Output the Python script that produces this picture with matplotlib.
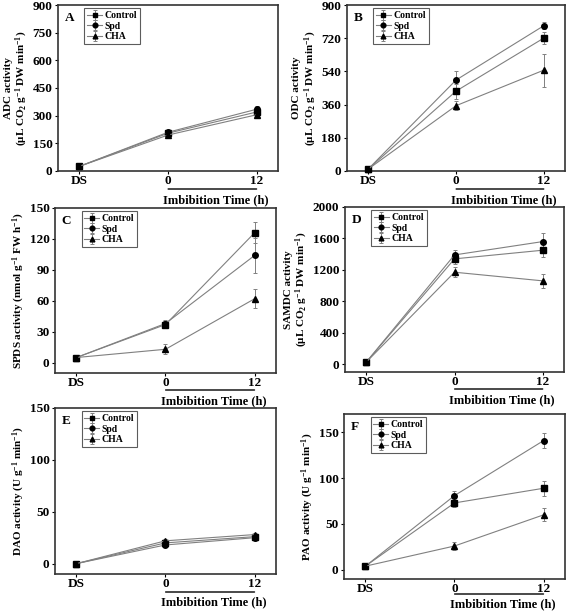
import matplotlib
matplotlib.use("Agg")
import matplotlib.pyplot as plt
from matplotlib.ticker import MultipleLocator

plt.rcParams['font.family'] = ['Liberation Serif', 'DejaVu Serif']
plt.rcParams['font.weight'] = 'bold'
plt.rcParams['mathtext.fontset'] = 'custom'
plt.rcParams['mathtext.rm'] = 'Liberation Serif:bold'
plt.rcParams['mathtext.default'] = 'rm'

# x categories
times = ['DS', '0', '12']
series = ['Control', 'Spd', 'CHA']

# A: ADC
adc_ctrl = [25, 205, 320]
adc_spd = [25, 210, 335]
adc_cha = [25, 195, 305]
adc_err = [[5, 12, 20], [5, 12, 20], [5, 10, 15]]

# B: ODC
odc_ctrl = [10, 433, 721]
odc_spd = [10, 493, 788]
odc_cha = [10, 354, 547]
odc_err = [[3, 40, 35], [3, 50, 20], [3, 25, 90]]

# C: SPDS
spds_ctrl = [5, 37, 126]
spds_spd = [5, 38, 104]
spds_cha = [5, 13, 62]
spds_err = [[1, 3, 10], [1, 3, 17], [1, 5, 9]]

# D: SAMDC
samdc_ctrl = [25, 1340, 1450]
samdc_spd = [25, 1390, 1560]
samdc_cha = [25, 1170, 1060]
samdc_err = [[10, 60, 90], [10, 60, 110], [10, 60, 90]]

# E: DAO
dao_ctrl = [0, 20, 26]
dao_spd = [0, 18, 25]
dao_cha = [0, 22, 28]
dao_err = [[0.5, 2, 2], [0.5, 2, 2], [0.5, 2, 2]]

# F: PAO
pao_ctrl = [4, 73, 89]
pao_spd = [4, 81, 141]
pao_cha = [4, 26, 60]
pao_err = [[1, 5, 8], [1, 5, 8], [1, 4, 7]]

# letter, data, errors, ylim, tick step, ylabel, axes box (px), bracket offsets (px)
panels = [
    ('A', [adc_ctrl, adc_spd, adc_cha], adc_err, (0, 900), 150,
     'ADC activity\n(μL CO$_2$ g$^{-1}$ DW min$^{-1}$)', (58, 5, 278, 171), (18, 29)),
    ('B', [odc_ctrl, odc_spd, odc_cha], odc_err, (0, 900), 180,
     'ODC activity\n(μL CO$_2$ g$^{-1}$ DW min$^{-1}$)', (347, 5, 565, 171), (18, 29)),
    ('C', [spds_ctrl, spds_spd, spds_cha], spds_err, (-10, 150), 30,
     'SPDS activity (nmol g$^{-1}$ FW h$^{-1}$)', (55, 208, 276, 373), (17, 28)),
    ('D', [samdc_ctrl, samdc_spd, samdc_cha], samdc_err, (-100, 2000), 400,
     'SAMDC activity\n(μL CO$_2$ g$^{-1}$ DW min$^{-1}$)', (345, 207, 564, 372), (17, 28)),
    ('E', [dao_ctrl, dao_spd, dao_cha], dao_err, (-10, 150), 50,
     'DAO activity (U g$^{-1}$ min$^{-1}$)', (55, 408, 276, 574), (18, 28)),
    ('F', [pao_ctrl, pao_spd, pao_cha], pao_err, (-10, 170), 50,
     'PAO activity (U g$^{-1}$ min$^{-1}$)', (344, 414, 565, 579), (15, 25)),
]

markers = ['s', 'o', '^']
W, H = 567, 613
fig = plt.figure(figsize=(W / 100, H / 100), dpi=100)

x = list(range(len(times)))
for letter, data, errs, ylim, step, ylabel, box, offs in panels:
    l, t, r, b = box
    h = b - t
    ax = fig.add_axes([l / W, 1 - b / H, (r - l) / W, h / H])
    for vals, err, m, name in zip(data, errs, markers, series):
        ax.errorbar(x, vals, yerr=err, color='#808080', lw=0.8,
                    elinewidth=0.7, capsize=1.5, capthick=0.7,
                    marker=m, ms=4, mfc='black', mec='black',
                    label=name, clip_on=False, zorder=3)
    ax.set_xlim(-0.24, 2.24)
    ax.set_ylim(*ylim)
    ax.yaxis.set_major_locator(MultipleLocator(step))
    ax.set_xticks(x)
    ax.set_xticklabels(times, fontsize=9.5, fontweight='bold')
    for lab in ax.get_yticklabels():
        lab.set_fontsize(9.5)
        lab.set_fontweight('bold')
    ax.tick_params(direction='out', length=2.5, width=0.8, pad=1.5, colors='black')
    ax.tick_params(axis='x', pad=0.5)
    for s in ax.spines.values():
        s.set_color('#333333')
        s.set_linewidth(1.2)
    ax.set_ylabel(ylabel, fontsize=8, fontweight='bold', labelpad=2,
                  linespacing=1.1)
    ax.text(0.03, 0.96, letter, transform=ax.transAxes, fontsize=9.5,
            fontweight='bold', va='top', ha='left')
    leg = ax.legend(loc='upper left', bbox_to_anchor=(0.12, 0.98),
                    fontsize=7, frameon=True, fancybox=False,
                    edgecolor='#333333', handlelength=1.5, handletextpad=0.3,
                    labelspacing=0.15, borderpad=0.3, borderaxespad=0.0,
                    markerscale=0.85)
    leg.get_frame().set_linewidth(0.8)
    for txt in leg.get_texts():
        txt.set_fontweight('bold')
    # imbibition time bracket
    ax.annotate('', xy=(0.97, -offs[0] / h), xytext=(2.03, -offs[0] / h),
                xycoords=('data', 'axes fraction'),
                arrowprops=dict(arrowstyle='-', color='black', lw=1.0))
    ax.text(1.54, -offs[1] / h, 'Imbibition Time (h)', transform=ax.get_xaxis_transform(),
            ha='center', va='center', fontsize=9, fontweight='bold')

fig.savefig('out.png', dpi=100)
